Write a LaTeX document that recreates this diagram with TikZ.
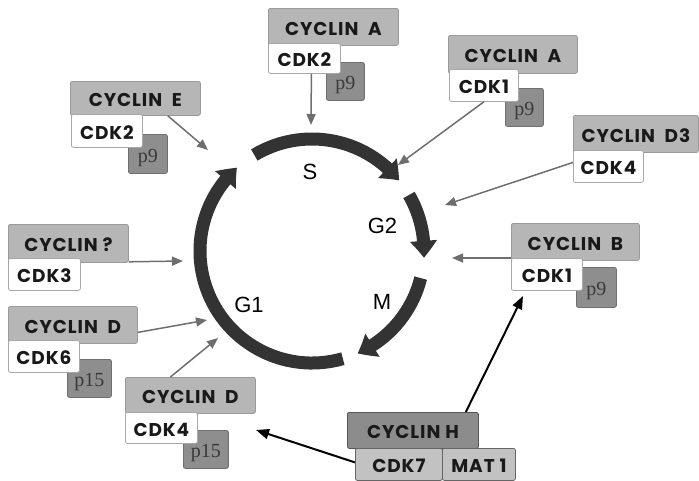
\documentclass[tikz,border=0pt]{standalone}
\usepackage{fontspec}
\usetikzlibrary{arrows.meta,bending}
\setmainfont{Liberation Serif}
\newfontfamily\boxfont{Poppins}[LetterSpace=5]
\newfontfamily\phasefont{Liberation Sans}
\definecolor{cycfill}{HTML}{B6B6B6}
\definecolor{cycdraw}{HTML}{9A9A9A}
\definecolor{cdkdraw}{HTML}{A8A8A8}
\definecolor{inhfill}{HTML}{8E8E8E}
\definecolor{inhdraw}{HTML}{707070}
\definecolor{inhtext}{HTML}{3A3A3A}
\definecolor{hfill}{HTML}{8C8C8C}
\definecolor{hdraw}{HTML}{555555}
\definecolor{subfill}{HTML}{C2C2C2}
\definecolor{subdraw}{HTML}{666666}
\definecolor{arcgray}{HTML}{333333}
\definecolor{linkgray}{HTML}{6E6E6E}
\begin{document}
\begin{tikzpicture}[x=1pt,y=-1pt,
  box/.style={draw, rounded corners=2pt, inner sep=0pt, anchor=north west,
    line width=0.8pt, text=black!90, text height=17pt, text depth=0pt,
    font=\boxfont\bfseries\fontsize{18.5}{18.5}\selectfont},
  cyc/.style={box, fill=cycfill, draw=cycdraw},
  cdk/.style={box, fill=white, draw=cdkdraw},
  inh/.style={box, fill=inhfill, draw=inhdraw, text=inhtext,
    font=\rmfamily\fontsize{20}{20}\selectfont},
  hbox/.style={box, fill=hfill, draw=hdraw},
  sub/.style={box, fill=subfill, draw=subdraw},
  phase arc/.style={line width=13pt, draw=arcgray,
    -{Triangle[length=17pt,width=26pt,bend]}},
  phase/.style={font=\phasefont\fontsize{22}{22}\selectfont, text=black, inner sep=0pt},
  garrow/.style={draw=linkgray, line width=1.5pt,
    -{Triangle[length=11pt,width=9pt]}},
  karrow/.style={draw=black, line width=2pt,
    -{Triangle[length=13pt,width=10pt]}}]
\useasboundingbox (0,0) rectangle (699,480);

% cell cycle ring
\coordinate (ctr) at (312,251);
\draw[phase arc] (ctr) ++(-121:112) arc[start angle=-121, end angle=-39, radius=112];
\draw[phase arc] (ctr) ++(-30:112) arc[start angle=-30, end angle=3.5, radius=112];
\draw[phase arc] (ctr) ++(14:112) arc[start angle=14, end angle=66, radius=112];
\draw[phase arc] (ctr) ++(74:112) arc[start angle=74, end angle=228, radius=112];
\node[phase] (lS) at (310,171.5) {S};
\node[phase] (lG2) at (382.5,226) {G2};
\node[phase] (lM) at (382,301.5) {M};
\node[phase] (lG1) at (249,305) {G1};

% cyclin E / CDK2
\node[cyc, minimum width=130pt, minimum height=34pt] (cycE) at (70,81) {CYCLIN~~E};
\node[inh, minimum width=39pt, minimum height=39pt] (p9E) at (128,134) {p9};
\node[cdk, minimum width=71pt, minimum height=33pt] (cdkE) at (71,114) {CDK2};

% cyclin A / CDK2
\node[cyc, minimum width=130pt, minimum height=37pt] (cycA1) at (268,8) {CYCLIN~~A};
\node[inh, minimum width=38pt, minimum height=38pt] (p9A1) at (326,62) {p9};
\node[cdk, minimum width=72pt, minimum height=30pt] (cdkA1) at (268,43) {CDK2};

% cyclin A / CDK1
\node[cyc, minimum width=129pt, minimum height=38pt] (cycA2) at (448,35) {CYCLIN~~A};
\node[inh, minimum width=38pt, minimum height=38pt] (p9A2) at (505,88) {p9};
\node[cdk, minimum width=69pt, minimum height=32pt] (cdkA2) at (449,69) {CDK1};

% cyclin D3 / CDK4
\node[cyc, minimum width=125pt, minimum height=37pt] (cycD3) at (573,115) {CYCLIN~~D3};
\node[cdk, minimum width=70pt, minimum height=32pt] (cdkD3) at (573,150) {CDK4};

% cyclin B / CDK1
\node[cyc, minimum width=128pt, minimum height=37pt] (cycB) at (511,223) {CYCLIN~~B};
\node[inh, minimum width=40pt, minimum height=40pt] (p9B) at (576,267) {p9};
\node[cdk, minimum width=71pt, minimum height=32pt] (cdkB) at (511,258) {CDK1};

% cyclin ? / CDK3
\node[cyc, minimum width=120pt, minimum height=38pt] (cycQ) at (8,224) {CYCLIN ?};
\node[cdk, minimum width=72pt, minimum height=32pt] (cdkQ) at (8,258) {CDK3};

% cyclin D / CDK6
\node[cyc, minimum width=129pt, minimum height=37pt] (cycD6) at (8,306) {CYCLIN~~D};
\node[inh, minimum width=44pt, minimum height=38pt] (p15a) at (67,359) {p15};
\node[cdk, minimum width=71pt, minimum height=32pt] (cdkD6) at (8,340) {CDK6};

% cyclin D / CDK4
\node[cyc, minimum width=130pt, minimum height=36pt] (cycD4) at (125,377) {CYCLIN~~D};
\node[inh, minimum width=45pt, minimum height=38pt] (p15b) at (183,430) {p15};
\node[cdk, minimum width=72pt, minimum height=31pt] (cdkD4) at (125,412) {CDK4};

% cyclin H / CDK7 / MAT1
\node[hbox, minimum width=131pt, minimum height=36pt] (cycH) at (347,412) {CYCLIN H};
\node[sub, minimum width=87pt, minimum height=32pt] (cdk7) at (355,448) {CDK7};
\node[sub, minimum width=73pt, minimum height=32pt] (mat1) at (442,448) {MAT 1};

% arrow ends
\coordinate (tE) at (208,150);
\coordinate (tA1) at (311,125);
\coordinate (tA2) at (398,165);
\coordinate (tD3) at (445,205);
\coordinate (tB) at (452,258);
\coordinate (tQ) at (183,261);
\coordinate (tD6) at (207,320);
\coordinate (tD4) at (218,338);
\coordinate (tHB) at (523,296);
\coordinate (tHD) at (256,430);

\draw[garrow] ([xshift=-33pt]cycE.south east) -- (tE);
\draw[garrow] ([xshift=7pt]cdkA1.south) -- (tA1);
\draw[garrow] (cdkA2.south) -- (tA2);
\draw[garrow] ([yshift=4pt]cdkD3.west) -- (tD3);
\draw[garrow] (cdkB.north west) -- (tB);
\draw[garrow] ([yshift=1pt]cycQ.south east) -- (tQ);
\draw[garrow] ([yshift=-7.5pt]cycD6.east) -- (tD6);
\draw[garrow] ([xshift=-20pt]cycD4.north) -- (tD4);
\draw[karrow] ([xshift=-13pt]cycH.north east) -- (tHB);
\draw[karrow] ([yshift=2pt]cdk7.west) -- (tHD);
\end{tikzpicture}
\end{document}
